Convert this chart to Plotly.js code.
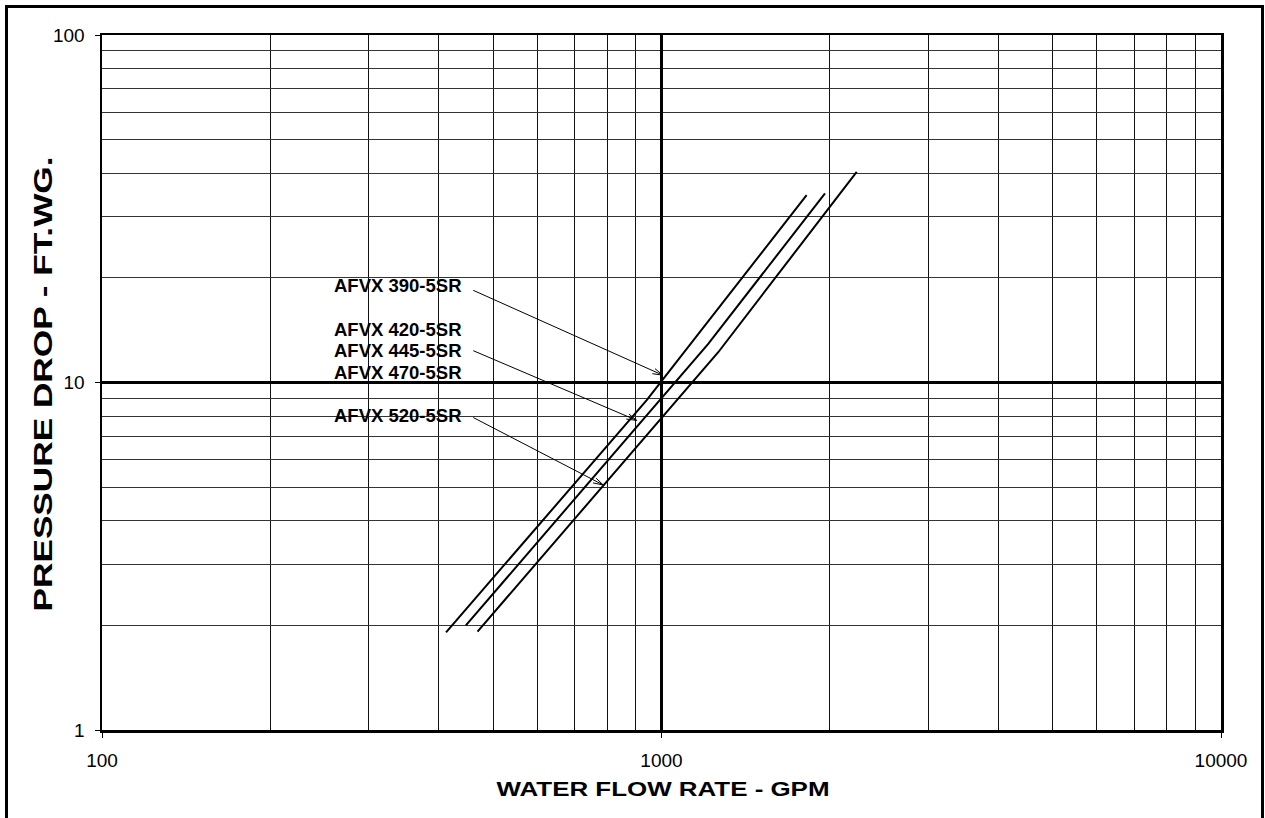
<!DOCTYPE html>
<html><head><meta charset="utf-8">
<script src="https://cdn.plot.ly/plotly-3.0.1.min.js"></script>
<style>
html,body{margin:0;padding:0;background:#fff;overflow:hidden}
#chart{width:1265px;height:818px}
#frame{position:absolute;left:5px;top:5px;width:1259px;height:900px;border:3px solid #000;border-bottom:none;box-sizing:border-box;pointer-events:none}
</style></head><body>
<div id="chart"></div><div id="frame"></div>
<script>
// ---- data ----
const seriesNames = ['AFVX 390-5SR', 'AFVX 420/445/470-5SR', 'AFVX 520-5SR'];
const flow390 = [412, 941, 1817];
const drop390 = [1.91, 8.9, 34.6];
const flow445 = [447, 1211, 1960];
const drop445 = [2.0, 12.9, 35.0];
const flow520 = [469, 1262, 2233];
const drop520 = [1.92, 12.2, 40.4];
const labelTexts = ['AFVX 390-5SR', 'AFVX 420-5SR', 'AFVX 445-5SR', 'AFVX 470-5SR', 'AFVX 520-5SR'];
const xTickVals = [100, 1000, 10000];
const xTickText = ['100', '1000', '10000'];
const yTickVals = [1, 10, 100];
const yTickText = ['1', '10', '100'];

const L = Math.log10;
const FONT = '"Liberation Sans", Arial, sans-serif';

function minorVals(a, b) {
  const out = [];
  for (let d = a; d < b; d *= 10) for (let k = 2; k <= 9; k++) out.push(k * d);
  return out;
}

const lineStyle = {color: '#000', width: 2};
const traces = [
  {x: flow390, y: drop390, name: seriesNames[0], mode: 'lines', line: lineStyle},
  {x: flow445, y: drop445, name: seriesNames[1], mode: 'lines', line: lineStyle},
  {x: flow520, y: drop520, name: seriesNames[2], mode: 'lines', line: lineStyle}
];

// plot geometry
const W = 1265, H = 818, M = {l: 102, r: 44, t: 35, b: 88};
const pxPerDecX = (W - M.l - M.r) / 2;
const pxPerDecY = (H - M.t - M.b) / 2;

// label positions (drop values at label centres) and arrow geometry
const labelX = 443;
const labelY = [18.96, 14.2, 12.4, 10.7, 8.06];
const tailX = 458;
const arrows = [
  {tip: [1005, 10.5], tail: [tailX, 18.5]},
  {tip: [903, 7.78], tail: [tailX, 12.4]},
  {tip: [787, 5.07], tail: [tailX, 7.97]}
];

const annotations = [];
labelTexts.forEach((t, i) => annotations.push({
  xref: 'x', yref: 'y', x: L(labelX), y: L(labelY[i]), xanchor: 'right', yanchor: 'middle',
  text: '<b>' + t + '</b>', showarrow: false, font: {family: FONT, size: 18.5, color: '#000'}
}));
arrows.forEach(a => {
  annotations.push({
    xref: 'x', yref: 'y', axref: 'x', ayref: 'y',
    x: L(a.tip[0]), y: L(a.tip[1]), ax: L(a.tail[0]), ay: L(a.tail[1]),
    text: '', showarrow: true, arrowhead: 0, arrowwidth: 1, arrowcolor: '#000', standoff: 0, startstandoff: 0
  });
  // open "V" head: two short strokes from the tip, +-16 degrees around the shaft
  const dx = (L(a.tail[0]) - L(a.tip[0])) * pxPerDecX;
  const dy = -(L(a.tail[1]) - L(a.tip[1])) * pxPerDecY;
  const len = Math.hypot(dx, dy), ux = dx / len, uy = dy / len;
  [-1, 1].forEach(s => {
    const ang = s * 16 * Math.PI / 180, c = Math.cos(ang), sn = Math.sin(ang);
    const hx = (ux * c - uy * sn) * 12, hy = (ux * sn + uy * c) * 12;
    annotations.push({
      xref: 'x', yref: 'y', x: L(a.tip[0]), y: L(a.tip[1]), ax: hx, ay: hy,
      text: '', showarrow: true, arrowhead: 0, arrowwidth: 1, arrowcolor: '#000', standoff: 0, startstandoff: 0
    });
  });
});

const layout = {
  width: W, height: H,
  margin: M,
  paper_bgcolor: '#fff', plot_bgcolor: '#fff',
  showlegend: false,
  font: {family: FONT, color: '#000'},
  xaxis: {
    type: 'log', range: [2, 4],
    tickmode: 'array', tickvals: xTickVals, ticktext: xTickText,
    ticks: 'outside', ticklen: 5, tickcolor: '#000', tickwidth: 1,
    tickfont: {family: FONT, size: 19, color: '#000'}, ticklabelstandoff: 7,
    showgrid: true, gridcolor: '#000', gridwidth: 2.5,
    showline: true, linecolor: '#000', linewidth: 2.5, mirror: true,
    minor: {tickmode: 'array', tickvals: minorVals(100, 10000), showgrid: true, gridcolor: '#111', gridwidth: 1, ticks: ''},
    title: {text: '<b>WATER FLOW RATE - GPM</b>', font: {family: FONT, size: 20, color: '#000'}, standoff: 10},
    automargin: false, fixedrange: true
  },
  yaxis: {
    type: 'log', range: [0, 2],
    tickmode: 'array', tickvals: yTickVals, ticktext: yTickText,
    ticks: 'outside', ticklen: 5, tickcolor: '#000', tickwidth: 1,
    tickfont: {family: FONT, size: 19, color: '#000'}, ticklabelstandoff: 6,
    showgrid: true, gridcolor: '#000', gridwidth: 2.5,
    showline: true, linecolor: '#000', linewidth: 2.5, mirror: true,
    minor: {tickmode: 'array', tickvals: minorVals(1, 100), showgrid: true, gridcolor: '#333', gridwidth: 1, ticks: ''},
    title: {text: '<b>PRESSURE DROP - FT.WG.</b>', font: {family: FONT, size: 26, color: '#000'}, standoff: 10},
    automargin: false, fixedrange: true
  },
  shapes: [
    {type: 'rect', xref: 'paper', yref: 'paper', x0: 0.2038, x1: 0.3304, y0: 0.435, y1: 0.6647,
     fillcolor: '#fff', line: {width: 0}, layer: 'between'}
  ],
  annotations: annotations
};

// widen the axis titles (the reference uses horizontally stretched lettering) and centre them
function fitTitle(sel, length, cx, cy) {
  const g = document.querySelector(sel);
  if (!g) return;
  const t = g.querySelector('text');
  if (!t) return;
  t.setAttribute('textLength', length);
  t.setAttribute('lengthAdjust', 'spacingAndGlyphs');
  const r = t.getBoundingClientRect();
  const dx = cx - (r.left + r.width / 2);
  const dy = cy - (r.top + r.height / 2);
  g.setAttribute('transform', 'translate(' + dx.toFixed(1) + ',' + dy.toFixed(1) + ')');
}

Plotly.newPlot('chart', traces, layout, {staticPlot: true, displayModeBar: false}).then(() => {
  fitTitle('.g-xtitle', 333, 663, 789);
  fitTitle('.g-ytitle', 455, 43, 384);
});
</script>
</body></html>
